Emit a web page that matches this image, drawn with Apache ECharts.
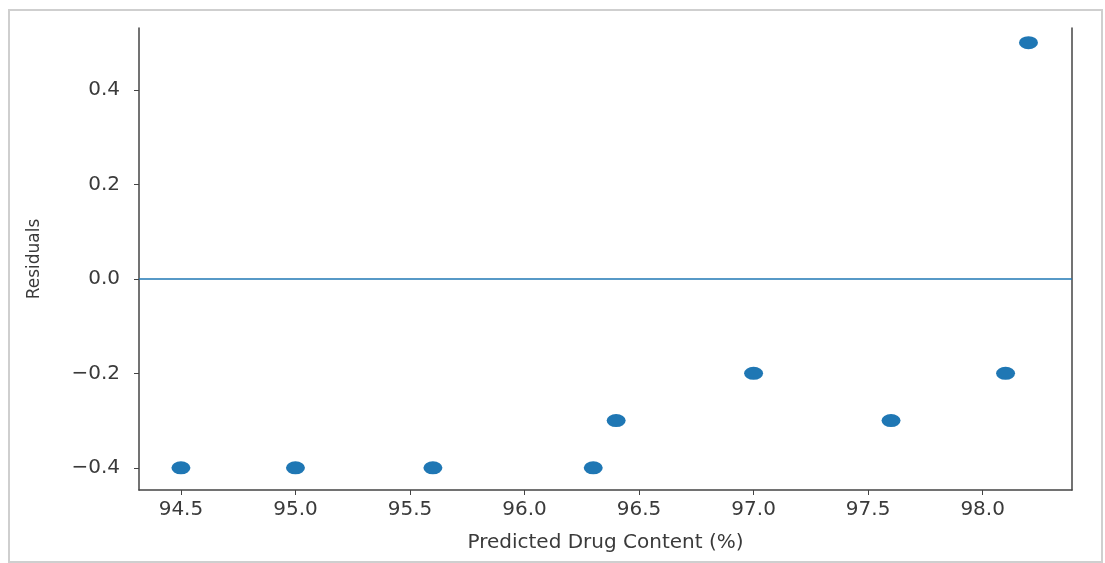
<!DOCTYPE html>
<html><head><meta charset="utf-8">
<script src="https://cdn.jsdelivr.net/npm/echarts@6/dist/echarts.min.js"></script>
<style>html,body{margin:0;padding:0;background:#fff}#c{width:1105px;height:563px}</style>
</head><body><div id="c"></div>
<script>
const predicted = [94.5, 95.0, 95.6, 96.3, 96.4, 97.0, 97.6, 98.1, 98.2];
const residuals = [-0.4, -0.4, -0.4, -0.4, -0.3, -0.2, -0.3, -0.2, 0.5];
const xTicks = [94.5, 95.0, 95.5, 96.0, 96.5, 97.0, 97.5, 98.0];
const yTicks = [-0.4, -0.2, 0.0, 0.2, 0.4];

const chart = echarts.init(document.getElementById('c'), null, {renderer: 'canvas'});
const axisColor = '#444';
const font = 'DejaVu Sans';
chart.setOption({
  animation: false,
  graphic: [{
    type: 'rect', shape: {x: 9, y: 10, width: 1093, height: 552},
    style: {fill: 'none', stroke: '#cfcfcf', lineWidth: 2}, silent: true, z: -1
  }],
  grid: {left: 139, right: 33, top: 28, bottom: 73},
  xAxis: {
    type: 'value', min: 94.317, max: 98.39,
    name: 'Predicted Drug Content (%)', nameLocation: 'middle', nameGap: 43,
    nameTextStyle: {fontFamily: font, fontSize: 20, color: '#3a3a3a'},
    axisLine: {show: true, onZero: false, lineStyle: {color: axisColor, width: 1.5}},
    axisTick: {show: true, length: 5, lineStyle: {color: axisColor}, customValues: xTicks},
    axisLabel: {fontFamily: font, fontSize: 20, color: '#3a3a3a', margin: 10,
      customValues: xTicks, formatter: v => v.toFixed(1)},
    splitLine: {show: false}
  },
  yAxis: [{
    type: 'value', min: -0.447, max: 0.531,
    name: 'Residuals', nameLocation: 'middle', nameGap: 96,
    nameTextStyle: {fontFamily: font, fontSize: 17, color: '#3a3a3a'},
    axisLine: {show: true, onZero: false, lineStyle: {color: axisColor, width: 1.5}},
    axisTick: {show: true, length: 5, lineStyle: {color: axisColor}, customValues: yTicks},
    axisLabel: {fontFamily: font, fontSize: 20, color: '#3a3a3a', margin: 19,
      customValues: yTicks, formatter: v => (v < 0 ? '\u2212' + Math.abs(v).toFixed(1) : v.toFixed(1))},
    splitLine: {show: false}
  }, {
    type: 'value', position: 'right', min: -0.447, max: 0.531,
    axisLine: {show: true, onZero: false, lineStyle: {color: axisColor, width: 1.5}},
    axisTick: {show: false}, axisLabel: {show: false}, splitLine: {show: false}
  }],
  series: [{
    type: 'scatter',
    data: predicted.map((x, i) => [x, residuals[i]]),
    symbol: 'path://M0,5a5,5 0 1,0 10,0a5,5 0 1,0 -10,0z',
    symbolSize: [19, 13],
    itemStyle: {color: '#1f77b4', opacity: 1},
    markLine: {
      silent: true, symbol: 'none', label: {show: false},
      lineStyle: {color: '#1f77b4', width: 1.5, type: 'solid'},
      data: [{yAxis: 0}]
    }
  }]
});
</script></body></html>
